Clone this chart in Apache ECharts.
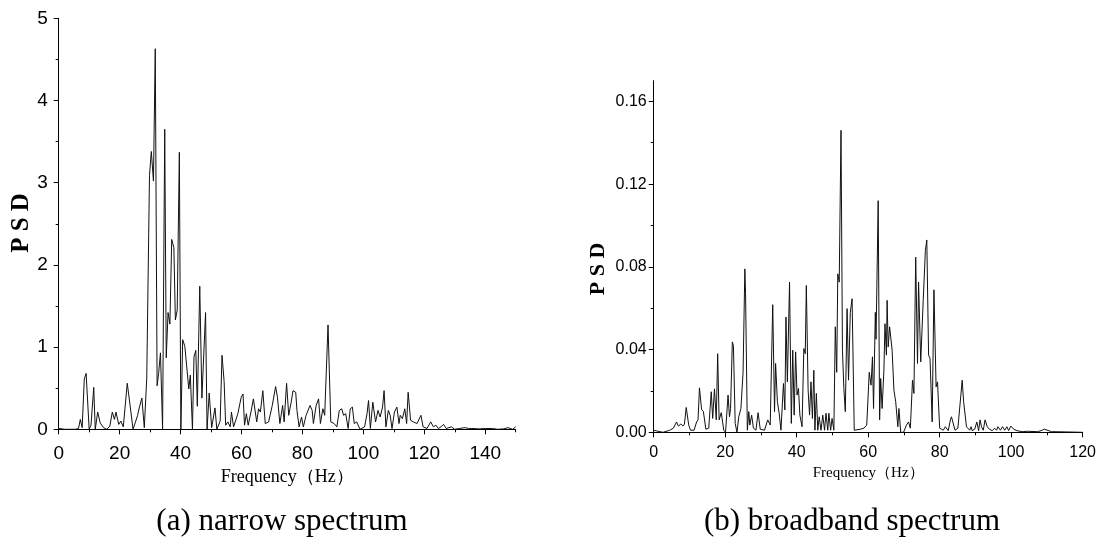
<!DOCTYPE html>
<html>
<head>
<meta charset="utf-8">
<script src="https://cdn.jsdelivr.net/npm/echarts@6/dist/echarts.min.js"></script>
<style>
  html, body { margin: 0; padding: 0; background: #fff; }
  #chart { width: 1099px; height: 537px; }
</style>
</head>
<body>
<div id="chart"></div>
<script>
// (a) narrow spectrum: frequency (Hz) and PSD
const freqA = [0, 2, 4, 4.5, 5.5, 6.5, 7.1, 7.7, 8.4, 9.0, 10.0, 10.6, 11.5, 12.0, 12.8, 13.6, 14.7, 15.8, 16.8, 17.6, 18.3, 18.8, 19.7, 20.4, 21.2, 22.5, 23.4, 24.4, 25.3, 25.9, 26.5, 27.3, 28.1, 28.9, 29.8, 30.4, 31.1, 31.7, 32.3, 32.8, 33.4, 34.1, 34.8, 35.3, 35.9, 36.5, 37.1, 37.8, 38.3, 38.9, 39.6, 40.1, 40.7, 41.4, 42.7, 43.2, 43.9, 44.4, 45.0, 45.5, 46.3, 47.0, 48.2, 48.7, 49.4, 50.2, 51.3, 51.9, 53.0, 53.6, 54.3, 54.8, 55.5, 56.3, 56.7, 57.4, 58.8, 59.9, 60.5, 61.0, 61.6, 62.2, 63.1, 63.9, 64.4, 65.0, 65.6, 66.2, 67.0, 67.8, 68.9, 70.1, 71.2, 71.8, 72.6, 73.5, 74.0, 74.8, 75.5, 76.3, 76.9, 77.8, 78.2, 78.9, 79.7, 80.3, 81.2, 81.7, 82.5, 83.2, 83.6, 84.5, 85.3, 85.9, 86.7, 87.3, 88.4, 89.3, 90.4, 91.3, 92.1, 92.9, 93.5, 94.2, 95.0, 95.7, 96.4, 97.0, 97.8, 98.9, 100.4, 101.2, 101.7, 102.3, 103.1, 104.0, 104.8, 105.5, 106.3, 106.8, 107.4, 108.2, 108.8, 109.4, 110.2, 111.0, 111.7, 112.1, 112.8, 113.6, 114.2, 114.7, 115.5, 116.4, 117.6, 118.2, 118.9, 119.6, 120.9, 122.1, 123.0, 123.8, 124.6, 125.5, 126.3, 127.2, 128.9, 130.0, 131.5, 133.4, 134.5, 135.6, 138.0, 140.0, 142.4, 144.0, 146.0, 147.5, 149.0, 150.0];
const psdA = [0.01, 0.0, 0.0, 0.02, 0.0, 0.01, 0.12, 0.02, 0.61, 0.68, 0.0, 0.05, 0.51, 0.0, 0.21, 0.08, 0.02, 0.0, 0.04, 0.21, 0.12, 0.21, 0.06, 0.1, 0.03, 0.56, 0.3, 0.0, 0.1, 0.17, 0.27, 0.38, 0.02, 0.62, 3.09, 3.38, 3.02, 4.63, 0.53, 0.68, 0.93, 0.0, 3.65, 0.87, 1.42, 1.28, 2.31, 2.21, 1.33, 1.45, 3.37, 0.0, 1.09, 1.01, 0.49, 0.66, 0.0, 0.88, 0.96, 0.28, 1.74, 0.38, 1.42, 0.0, 0.44, 0.02, 0.26, 0.0, 0.1, 0.9, 0.58, 0.05, 0.09, 0.03, 0.21, 0.03, 0.19, 0.39, 0.43, 0.05, 0.19, 0.05, 0.21, 0.37, 0.37, 0.09, 0.25, 0.21, 0.47, 0.07, 0.09, 0.29, 0.52, 0.39, 0.07, 0.29, 0.09, 0.56, 0.17, 0.33, 0.47, 0.45, 0.23, 0.03, 0.15, 0.03, 0.17, 0.19, 0.29, 0.23, 0.07, 0.29, 0.37, 0.07, 0.25, 0.17, 1.27, 0.09, 0.07, 0.03, 0.23, 0.25, 0.17, 0.19, 0.01, 0.25, 0.27, 0.07, 0.09, 0.0, 0.03, 0.19, 0.35, 0.01, 0.33, 0.09, 0.23, 0.15, 0.27, 0.47, 0.03, 0.23, 0.17, 0.01, 0.21, 0.27, 0.07, 0.17, 0.13, 0.25, 0.07, 0.45, 0.11, 0.09, 0.07, 0.05, 0.17, 0.03, 0.01, 0.09, 0.03, 0.05, 0.01, 0.03, 0.06, 0.01, 0.03, 0.0, 0.01, 0.02, 0.01, 0.01, 0.005, 0.01, 0.01, 0.0, 0.005, 0.02, 0.0, 0.03];

// (b) broadband spectrum: frequency (Hz) and PSD
const freqB = [0, 0.7, 2.6, 4.5, 5.5, 6.4, 6.9, 7.6, 8.2, 8.6, 9.1, 9.8, 10.3, 11.3, 12.0, 12.4, 12.8, 13.4, 13.9, 14.6, 15.4, 16.1, 16.5, 17.0, 17.5, 17.9, 18.3, 18.9, 19.6, 20.1, 20.8, 21.2, 21.5, 22.0, 22.3, 22.8, 23.3, 23.8, 24.4, 25.0, 25.5, 25.7, 26.2, 26.6, 26.9, 27.4, 27.9, 28.6, 29.2, 29.8, 31.0, 31.9, 32.6, 33.3, 33.8, 34.1, 34.6, 35.1, 35.6, 36.3, 36.7, 37.0, 37.4, 38.0, 38.5, 38.9, 39.3, 39.7, 40.1, 40.5, 40.9, 41.5, 42.0, 42.4, 42.7, 43.2, 43.6, 44.0, 44.4, 44.8, 45.1, 45.5, 45.9, 46.3, 46.8, 47.3, 47.8, 48.2, 48.7, 49.0, 49.5, 49.9, 50.4, 50.8, 51.2, 51.5, 51.9, 52.4, 52.8, 53.2, 53.6, 54.1, 54.5, 55.0, 55.5, 56.1, 56.6, 57.9, 58.8, 59.6, 60.3, 60.8, 61.2, 61.5, 62.0, 62.2, 62.8, 63.2, 63.5, 63.9, 64.4, 64.7, 65.1, 65.3, 65.6, 66.0, 66.7, 67.2, 67.7, 68.3, 68.6, 69.1, 69.9, 70.7, 71.3, 71.8, 72.4, 72.8, 73.3, 73.8, 74.1, 74.7, 75.4, 76.0, 76.4, 76.9, 77.3, 77.9, 78.4, 79.0, 79.4, 80.0, 81.0, 81.6, 82.4, 83.0, 83.3, 83.8, 84.3, 85.1, 85.6, 86.3, 86.7, 87.0, 87.5, 87.9, 88.4, 88.8, 89.1, 89.8, 90.4, 90.9, 91.3, 91.7, 92.2, 92.7, 93.3, 93.9, 94.7, 95.4, 95.9, 96.3, 97.0, 97.6, 98.2, 98.8, 99.3, 99.9, 100.7, 101.6, 103.1, 104.5, 107.4, 108.4, 109.3, 109.8, 111.3, 115.0, 120.0];
const psdB = [0.001, 0.0007, 0.0, 0.001, 0.002, 0.005, 0.003, 0.004, 0.003, 0.004, 0.012, 0.0035, 0.001, 0.001, 0.005, 0.006, 0.0215, 0.011, 0.010, 0.0015, 0.002, 0.0196, 0.0067, 0.021, 0.006, 0.038, 0.006, 0.0095, 0.001, 0.0, 0.018, 0.0075, 0.0115, 0.0437, 0.042, 0.0043, 0.0, 0.0075, 0.0115, 0.029, 0.079, 0.067, 0.001, 0.010, 0.0035, 0.0083, 0.002, 0.001, 0.0095, 0.0015, 0.001, 0.006, 0.0035, 0.0617, 0.010, 0.0333, 0.0148, 0.0092, 0.001, 0.0236, 0.0108, 0.0557, 0.0244, 0.0726, 0.0043, 0.0397, 0.0083, 0.0389, 0.018, 0.0212, 0.0083, 0.0027, 0.0405, 0.038, 0.071, 0.0204, 0.0083, 0.0244, 0.0067, 0.030, 0.001, 0.0188, 0.001, 0.0075, 0.001, 0.0083, 0.001, 0.0092, 0.001, 0.0092, 0.001, 0.0067, 0.001, 0.051, 0.029, 0.0766, 0.0726, 0.146, 0.0397, 0.0212, 0.010, 0.0598, 0.0252, 0.058, 0.0646, 0.001, 0.001, 0.0015, 0.002, 0.0035, 0.029, 0.0228, 0.0365, 0.0115, 0.058, 0.045, 0.112, 0.006, 0.026, 0.0115, 0.030, 0.0525, 0.0373, 0.0638, 0.0413, 0.051, 0.0397, 0.0204, 0.0148, 0.0027, 0.0115, 0.0, 0.0, 0.0035, 0.005, 0.002, 0.0252, 0.0188, 0.0847, 0.0333, 0.0726, 0.034, 0.0638, 0.0879, 0.093, 0.0373, 0.0357, 0.005, 0.0689, 0.022, 0.0244, 0.002, 0.001, 0.0027, 0.0008, 0.006, 0.0075, 0.0075, 0.001, 0.002, 0.0015, 0.0252, 0.0148, 0.0156, 0.0027, 0.0035, 0.001, 0.0027, 0.0008, 0.0015, 0.005, 0.0008, 0.006, 0.0027, 0.001, 0.006, 0.0027, 0.0015, 0.0008, 0.002, 0.001, 0.0027, 0.001, 0.0027, 0.001, 0.0027, 0.0008, 0.003, 0.0015, 0.0008, 0.0003, 0.0005, 0.0003, 0.0008, 0.0015, 0.0008, 0.0003, 0.0002, 0.0];

// tick positions
const xMajorA = [0, 20, 40, 60, 80, 100, 120, 140];
const xMinorA = [10, 30, 50, 70, 90, 110, 130, 150];
const yMajorA = [0, 1, 2, 3, 4, 5];
const yMinorA = [0.5, 1.5, 2.5, 3.5, 4.5];
const xMajorB = [0, 20, 40, 60, 80, 100, 120];
const xMinorB = [10, 30, 50, 70, 90, 110];
const yMajorB = [0, 0.04, 0.08, 0.12, 0.16];
const yMinorB = [0.02, 0.06, 0.10, 0.14];

const pairs = (xs, ys) => xs.map((x, i) => [x, ys[i]]);

const SANS = '"Liberation Sans", Arial, sans-serif';
const SERIF = '"Liberation Serif", "Times New Roman", serif';
const INK = '#000';

function majorAxis(extra) {
  return Object.assign({
    type: 'value',
    axisLine: { show: true, lineStyle: { color: INK, width: 1 } },
    splitLine: { show: false },
    axisTick: { show: true, length: 5, lineStyle: { color: INK, width: 1 } }
  }, extra);
}
function minorAxis(extra) {
  return Object.assign({
    type: 'value',
    axisLine: { show: false },
    splitLine: { show: false },
    axisLabel: { show: false },
    axisTick: { show: true, length: 3, lineStyle: { color: INK, width: 1 } }
  }, extra);
}

const chart = echarts.init(document.getElementById('chart'), null, { renderer: 'canvas' });

chart.setOption({
  animation: false,
  backgroundColor: '#fff',
  grid: [
    { left: 58.7, right: 583.3, top: 18.3, bottom: 107.7 },
    { left: 653.7, right: 16.3, top: 80.7, bottom: 104.7 }
  ],
  xAxis: [
    majorAxis({
      gridIndex: 0, position: 'bottom', min: 0, max: 150,
      axisTick: { show: true, length: 5, customValues: xMajorA, lineStyle: { color: INK, width: 1 } },
      axisLabel: { customValues: xMajorA, margin: 15, color: INK, fontSize: 19, fontFamily: SANS },
      name: 'Frequency（Hz）', nameLocation: 'middle', nameGap: 28,
      nameTextStyle: { color: INK, fontSize: 18, fontFamily: SERIF }
    }),
    minorAxis({ gridIndex: 0, position: 'bottom', min: 0, max: 150,
      axisTick: { show: true, length: 3, customValues: xMinorA, lineStyle: { color: INK, width: 1 } } }),
    majorAxis({
      gridIndex: 1, position: 'bottom', min: 0, max: 120,
      axisTick: { show: true, length: 5, customValues: xMajorB, lineStyle: { color: INK, width: 1 } },
      axisLabel: { customValues: xMajorB, margin: 12, color: INK, fontSize: 16, fontFamily: SANS },
      name: 'Frequency（Hz）', nameLocation: 'middle', nameGap: 27,
      nameTextStyle: { color: INK, fontSize: 15, fontFamily: SERIF }
    }),
    minorAxis({ gridIndex: 1, position: 'bottom', min: 0, max: 120,
      axisTick: { show: true, length: 3, customValues: xMinorB, lineStyle: { color: INK, width: 1 } } })
  ],
  yAxis: [
    majorAxis({
      gridIndex: 0, position: 'left', min: 0, max: 5,
      axisTick: { show: true, length: 5, customValues: yMajorA, lineStyle: { color: INK, width: 1 } },
      axisLabel: { customValues: yMajorA, margin: 11, color: INK, fontSize: 19, fontFamily: SANS }
    }),
    minorAxis({ gridIndex: 0, position: 'left', min: 0, max: 5,
      axisTick: { show: true, length: 3, customValues: yMinorA, lineStyle: { color: INK, width: 1 } } }),
    majorAxis({
      gridIndex: 1, position: 'left', min: 0, max: 0.17,
      axisTick: { show: true, length: 5, customValues: yMajorB, lineStyle: { color: INK, width: 1 } },
      axisLabel: { customValues: yMajorB, margin: 7, color: INK, fontSize: 16, fontFamily: SANS,
        formatter: v => Number(v).toFixed(2) }
    }),
    minorAxis({ gridIndex: 1, position: 'left', min: 0, max: 0.17,
      axisTick: { show: true, length: 3, customValues: yMinorB, lineStyle: { color: INK, width: 1 } } })
  ],
  series: [
    {
      type: 'line', xAxisIndex: 0, yAxisIndex: 0,
      data: pairs(freqA, psdA), showSymbol: false, symbol: 'none',
      lineStyle: { color: '#111', width: 1 }
    },
    {
      type: 'line', xAxisIndex: 2, yAxisIndex: 2,
      data: pairs(freqB, psdB), showSymbol: false, symbol: 'none',
      lineStyle: { color: '#111', width: 1 }
    }
  ],
  graphic: [
    { type: 'text', x: 22, y: 223, rotation: Math.PI / 2,
      style: { text: 'P S D', fill: INK, font: 'bold 25px ' + SERIF, align: 'center', verticalAlign: 'middle' } },
    { type: 'text', x: 598, y: 269, rotation: Math.PI / 2,
      style: { text: 'P S D', fill: INK, font: 'bold 22px ' + SERIF, align: 'center', verticalAlign: 'middle' } },
    { type: 'text', x: 282, y: 506,
      style: { text: '(a) narrow spectrum', fill: INK, font: '31px ' + SERIF, align: 'center', verticalAlign: 'top' } },
    { type: 'text', x: 852, y: 506,
      style: { text: '(b) broadband spectrum', fill: INK, font: '31px ' + SERIF, align: 'center', verticalAlign: 'top' } }
  ]
});
</script>
</body>
</html>
